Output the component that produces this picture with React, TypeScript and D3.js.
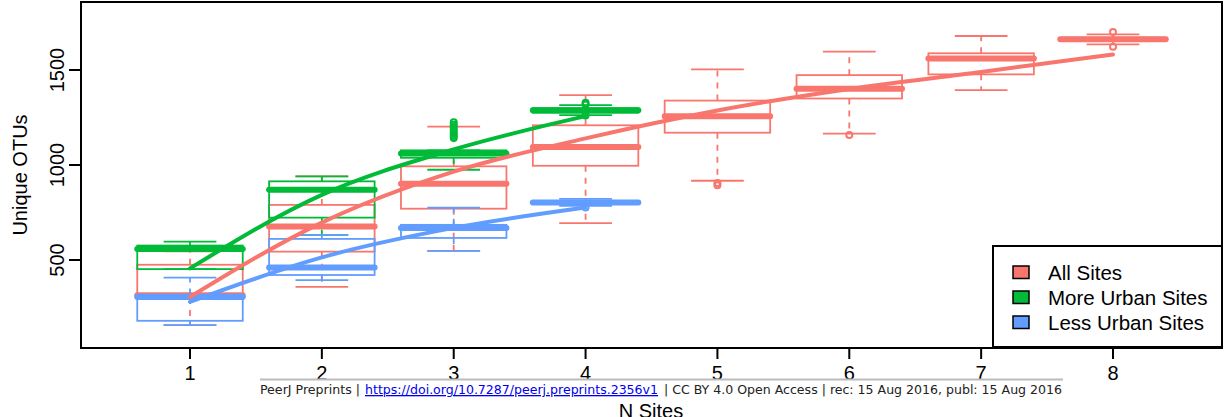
import React from 'react';
import * as d3 from 'd3';

// n sites on the x axis
const nSites = [1, 2, 3, 4, 5, 6, 7, 8];

// five-number summaries per n: [lower whisker, q1, median, q3, upper whisker]
const allSites = [
  [157, 300, 315, 475, 545],
  [359, 544, 676, 790, 940],
  [548, 770, 901, 993, 1202],
  [694, 996, 1095, 1209, 1368],
  [917, 1170, 1257, 1339, 1503],
  [1165, 1350, 1401, 1473, 1597],
  [1394, 1477, 1561, 1588, 1679],
  [1635, 1655, 1662, 1670, 1688],
];
const allOutliers = [[], [], [], [], [905, 893], [1158], [], [1700, 1623]];

const moreUrban = [
  [452, 452, 558, 576, 597],
  [632, 723, 870, 914, 940],
  [975, 1038, 1060, 1077, 1077],
  [1262, 1275, 1288, 1299, 1315],
];
const moreOutliers = [[], [], [1142, 1152, 1163, 1175, 1188, 1200, 1212, 1225], [1327, 1318, 1260]];

const lessUrban = [
  [157, 180, 305, 318, 407],
  [394, 421, 461, 611, 632],
  [548, 616, 669, 685, 775],
  [785, 795, 802, 810, 822],
];
const lessOutliers = [[], [], [], [776]];

// fitted accumulation curves
const allFit = [305, 697, 965, 1140, 1287, 1400, 1490, 1582];
const moreFit = [456, 843, 1082, 1257];
const lessFit = [280, 514, 669, 776];

const yTicks = [500, 1000, 1500];
const legendLabels = ['All Sites', 'More Urban Sites', 'Less Urban Sites'];
const colors = ['#F8766D', '#00BA38', '#619CFF'];

const W = 1229;
const H = 417;
const frame = { left: 81, top: 2, right: 1222, bottom: 348 };

const x = d3.scaleLinear().domain([1, 8]).range([190, 1113]);
const y = d3.scaleLinear().domain([500, 1500]).range([260, 70]);
const boxHalf = x(1.4) - x(1);
const capHalf = x(1.2) - x(1);

const font = "'Liberation Sans', Arial, Helvetica, sans-serif";
const footFont = "'DejaVu Sans Condensed', 'DejaVu Sans', sans-serif";

function Boxes({ stats, outliers, color }) {
  return (
    <g stroke={color} fill="none">
      {stats.map((s, i) => {
        const cx = x(nSites[i]);
        const [lw, q1, med, q3, uw] = s;
        return (
          <g key={i}>
            <line x1={cx} x2={cx} y1={y(q3)} y2={y(uw)} strokeWidth={1.8} strokeDasharray="6,6" />
            <line x1={cx} x2={cx} y1={y(q1)} y2={y(lw)} strokeWidth={1.8} strokeDasharray="6,6" />
            <line x1={cx - capHalf} x2={cx + capHalf} y1={y(uw)} y2={y(uw)} strokeWidth={1.8} />
            <line x1={cx - capHalf} x2={cx + capHalf} y1={y(lw)} y2={y(lw)} strokeWidth={1.8} />
            <rect x={cx - boxHalf} width={boxHalf * 2} y={y(q3)} height={Math.max(0.5, y(q1) - y(q3))} strokeWidth={1.8} />
            <line x1={cx - boxHalf} x2={cx + boxHalf} y1={y(med)} y2={y(med)} strokeWidth={6} strokeLinecap="round" />
            {outliers[i].map((o, j) => (
              <circle key={j} cx={cx} cy={y(o)} r={3} strokeWidth={2} />
            ))}
          </g>
        );
      })}
    </g>
  );
}

function Fit({ values, color }) {
  const line = d3
    .line()
    .x((d, i) => x(nSites[i]))
    .y((d) => y(d))
    .curve(d3.curveMonotoneX);
  return <path d={line(values)} fill="none" stroke={color} strokeWidth={4} strokeLinecap="round" />;
}

export default function App() {
  return (
    <div style={{ position: 'absolute', left: 0, top: 0 }}>
      <svg width={W} height={H} style={{ display: 'block', background: '#fff' }}>
        <Boxes stats={allSites} outliers={allOutliers} color={colors[0]} />
        <Boxes stats={moreUrban} outliers={moreOutliers} color={colors[1]} />
        <Boxes stats={lessUrban} outliers={lessOutliers} color={colors[2]} />
        <Fit values={allFit} color={colors[0]} />
        <Fit values={moreFit} color={colors[1]} />
        <Fit values={lessFit} color={colors[2]} />

        {/* frame */}
        <rect
          x={frame.left}
          y={frame.top}
          width={frame.right - frame.left}
          height={frame.bottom - frame.top}
          fill="none"
          stroke="#000"
          strokeWidth={2}
        />

        {/* y axis */}
        {yTicks.map((t) => (
          <g key={t}>
            <line x1={frame.left} x2={frame.left - 12} y1={y(t)} y2={y(t)} stroke="#000" strokeWidth={2} />
            <text
              transform={`translate(64,${y(t)}) rotate(-90)`}
              textAnchor="middle"
              fontFamily={font}
              fontSize={20}
            >
              {t}
            </text>
          </g>
        ))}
        <text transform="translate(27,175) rotate(-90)" textAnchor="middle" fontFamily={font} fontSize={20}>
          Unique OTUs
        </text>

        {/* x axis */}
        {nSites.map((n) => (
          <g key={n}>
            <line x1={x(n)} x2={x(n)} y1={frame.bottom} y2={frame.bottom + 11} stroke="#000" strokeWidth={2} />
            <text x={x(n)} y={380} textAnchor="middle" fontFamily={font} fontSize={20}>
              {n}
            </text>
          </g>
        ))}
        <text x={651} y={418} textAnchor="middle" fontFamily={font} fontSize={20}>
          N Sites
        </text>

        {/* preprint footer */}
        <line x1={260} x2={1063} y1={379.5} y2={379.5} stroke="#bbb" strokeWidth={2} />
        <text x={260} y={394} fontFamily={footFont} fontSize={13} fill="#222" textLength={100} lengthAdjust="spacingAndGlyphs">
          PeerJ Preprints |
        </text>
        <text x={365} y={394} fontFamily={footFont} fontSize={13} fill="#0000EE" textDecoration="underline" textLength={293} lengthAdjust="spacingAndGlyphs">
          https://doi.org/10.7287/peerj.preprints.2356v1
        </text>
        <text x={664} y={394} fontFamily={footFont} fontSize={13} fill="#222" textLength={398} lengthAdjust="spacingAndGlyphs">
          | CC BY 4.0 Open Access | rec: 15 Aug 2016, publ: 15 Aug 2016
        </text>

        {/* legend */}
        <rect x={993} y={246} width={229} height={101} fill="#fff" stroke="#000" strokeWidth={2} />
        {legendLabels.map((l, i) => (
          <g key={l}>
            <rect x={1013} y={266 + i * 25} width={16} height={12.5} fill={colors[i]} stroke="#000" strokeWidth={1.5} />
            <text x={1048} y={280 + i * 25} fontFamily={font} fontSize={20.5}>
              {l}
            </text>
          </g>
        ))}
      </svg>
    </div>
  );
}
